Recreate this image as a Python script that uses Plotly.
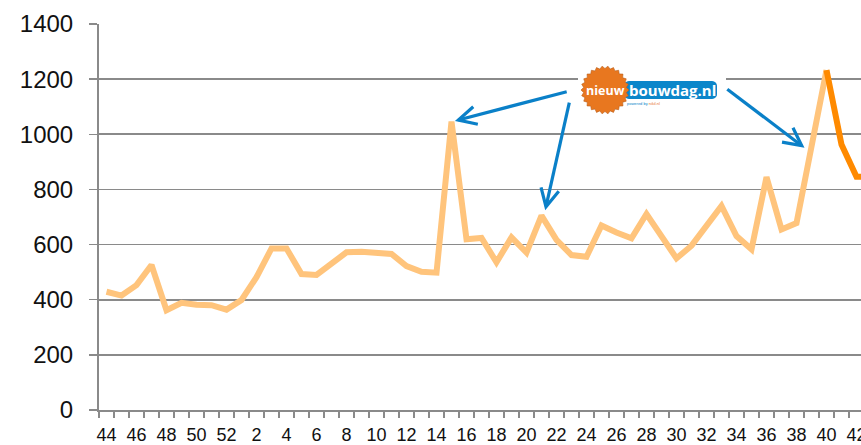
import math
import plotly.graph_objects as go

# ---- data ----
weeks = [44, 45, 46, 47, 48, 49, 50, 51, 52] + list(range(1, 44))
prev_values = [429, 415, 453, 526, 362, 389, 382, 380, 364, 399,
               482, 586, 586, 493, 490, 532, 572, 574, 572, 566,
               522, 501, 498, 1046, 619, 624, 536, 626, 571, 705,
               617, 562, 556, 669, 644, 623, 711, 629, 550, 596,
               671, 740, 631, 583, 845, 655, 678, 955, 1233]
curr_values = [1233, 963, 846, 845]
curr_start = 48
y_ticks = [0, 200, 400, 600, 800, 1000, 1200, 1400]

W, H = 861, 445
ML, MT, MB, MR = 99, 24, 35, 0
PW, PH = W - ML - MR, H - MT - MB

def px(xp, yp):
    return ((xp - ML) / PW, (H - MB - yp) / PH)

x_prev = list(range(len(prev_values)))
x_curr = list(range(curr_start, curr_start + len(curr_values)))

fig = go.Figure()
fig.add_trace(go.Scatter(x=x_prev, y=prev_values, mode="lines",
                         line=dict(color="#FFC47C", width=6),
                         hoverinfo="skip", showlegend=False))
fig.add_trace(go.Scatter(x=x_curr, y=curr_values, mode="lines",
                         line=dict(color="#FF8A00", width=6),
                         hoverinfo="skip", showlegend=False))

tickvals = [i for i in range(len(weeks)) if i % 2 == 0]
ticktext = [str(weeks[i]) for i in tickvals]

GRID = "#8a8a8a"
FONT = "Liberation Sans, Arial, sans-serif"

shapes = []
annotations = []

# white logo background
x0, y0 = px(578, 66)
x1, y1 = px(726, 114)
shapes.append(dict(type="rect", xref="paper", yref="paper", x0=x0, y0=y1, x1=x1, y1=y0,
                   fillcolor="white", line=dict(width=0), layer="above"))

def rounded_rect(xa, ya, xb, yb, r):
    pts = []
    segs = [((xb - r, ya + r), -90, 0), ((xb - r, yb - r), 0, 90),
            ((xa + r, yb - r), 90, 180), ((xa + r, ya + r), 180, 270)]
    for (cx, cy), a0, a1 in segs:
        for k in range(7):
            a = math.radians(a0 + (a1 - a0) * k / 6)
            pts.append(px(cx + r * math.cos(a), cy + r * math.sin(a)))
    return "M " + " L ".join(f"{p[0]:.5f},{p[1]:.5f}" for p in pts) + " Z"

shapes.append(dict(type="path", xref="paper", yref="paper",
                   path=rounded_rect(624, 81, 717, 99, 5),
                   fillcolor="#0B86CA", line=dict(width=0), layer="above"))

# orange starburst
cx, cy = 605, 90
n = 26
pts = []
for k in range(2 * n):
    r = 24 if k % 2 == 0 else 21.5
    a = math.pi * k / n
    pts.append(px(cx + r * math.cos(a), cy + r * math.sin(a)))
shapes.append(dict(type="path", xref="paper", yref="paper",
                   path="M " + " L ".join(f"{p[0]:.5f},{p[1]:.5f}" for p in pts) + " Z",
                   fillcolor="#E8771F", line=dict(color="#b8601c", width=0.6), layer="above"))

ax, ay = px(605, 91)
annotations.append(dict(xref="paper", yref="paper", x=ax, y=ay, text="<b>nieuw</b>",
                        xanchor="center", yanchor="middle", showarrow=False,
                        font=dict(family="Open Sans, sans-serif", size=12.5, color="white")))
ax, ay = px(672, 89.5)
annotations.append(dict(xref="paper", yref="paper", x=ax, y=ay, text="<b>bouwdag.nl</b>",
                        xanchor="center", yanchor="middle", showarrow=False,
                        font=dict(family="Open Sans, sans-serif", size=15, color="white")))
ax, ay = px(643, 103.5)
annotations.append(dict(xref="paper", yref="paper", x=ax, y=ay,
                        text="powered by <span style='color:#E8771F'>nikil.nl</span>",
                        xanchor="center", yanchor="middle", showarrow=False,
                        font=dict(family=FONT, size=4, color="#0B86CA")))

# arrows
BLUE = "#0A80C8"
arrows = [((566.7, 91.7), (458.3, 120.0)),
          ((569.3, 102.7), (546.0, 206.7)),
          ((727.3, 89.3), (801.7, 145.7))]
for (tx, ty), (hx, hy) in arrows:
    a0, b0 = px(tx, ty)
    a1, b1 = px(hx, hy)
    shapes.append(dict(type="line", xref="paper", yref="paper", x0=a0, y0=b0, x1=a1, y1=b1,
                       line=dict(color=BLUE, width=3.2), layer="above"))
    dx, dy = tx - hx, ty - hy
    L = math.hypot(dx, dy)
    dx, dy = dx / L, dy / L
    wings = []
    for s in (1, -1):
        ang = math.radians(27) * s
        wx = dx * math.cos(ang) - dy * math.sin(ang)
        wy = dx * math.sin(ang) + dy * math.cos(ang)
        wings.append(px(hx + 20 * wx, hy + 20 * wy))
    hp = px(hx, hy)
    path = (f"M {wings[0][0]:.5f},{wings[0][1]:.5f} L {hp[0]:.5f},{hp[1]:.5f} "
            f"L {wings[1][0]:.5f},{wings[1][1]:.5f}")
    shapes.append(dict(type="path", xref="paper", yref="paper", path=path,
                       line=dict(color=BLUE, width=3.2), layer="above"))

fig.update_layout(
    width=W, height=H,
    margin=dict(l=ML, r=MR, t=MT, b=MB, pad=0),
    paper_bgcolor="white", plot_bgcolor="white",
    font=dict(family=FONT, color="#111111"),
    shapes=shapes, annotations=annotations,
    xaxis=dict(range=[-0.5, (W - ML) / 15.0 - 0.5], tickmode="array", tickvals=tickvals,
               ticktext=ticktext, ticks="", showgrid=False, zeroline=False,
               showline=True, linecolor=GRID, linewidth=2, automargin=False,
               ticklabeloverflow="allow", ticklabelstandoff=7,
               tickfont=dict(size=18, family=FONT, color="#111111"),
               minor=dict(tickmode="array",
                          tickvals=[i - 0.5 for i in range(len(weeks) + 1)],
                          ticks="outside", ticklen=6, tickcolor=GRID, tickwidth=1.5,
                          showgrid=False),
               fixedrange=True),
    yaxis=dict(range=[0, 1400], tickmode="array", tickvals=y_ticks,
               ticks="outside", ticklen=8, tickcolor=GRID, tickwidth=1.5,
               showgrid=True, gridcolor=GRID, gridwidth=1.8, zeroline=False,
               showline=True, linecolor=GRID, linewidth=2, automargin=False,
               tickfont=dict(size=24, family=FONT, color="#111111"),
               ticklabelstandoff=11, fixedrange=True),
)

fig.write_html("out.html", config={"displayModeBar": False, "staticPlot": True},
               post_script="document.body.style.margin='0px';document.body.style.padding='0px';")
